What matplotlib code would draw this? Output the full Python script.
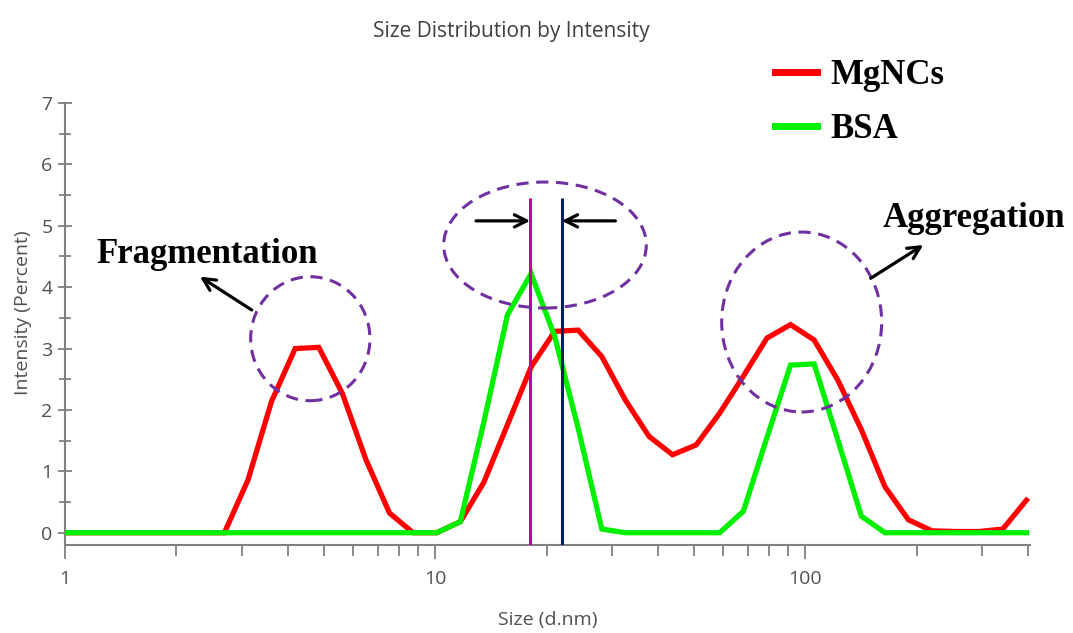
import numpy as np
import matplotlib
matplotlib.use('Agg')
import matplotlib.pyplot as plt
from matplotlib.patches import Ellipse
from matplotlib.lines import Line2D

##### DATA #####
# Malvern size bins (d.nm)
sizes = [0.9649, 1.117, 1.294, 1.499, 1.736, 2.010, 2.328, 2.696, 3.122, 3.615,
         4.187, 4.849, 5.615, 6.503, 7.531, 8.721, 10.10, 11.70, 13.54, 15.69,
         18.17, 21.04, 24.36, 28.21, 32.67, 37.84, 43.82, 50.75, 58.77, 68.06,
         78.82, 91.28, 105.7, 122.4, 141.8, 164.2, 190.1, 220.2, 255.0, 295.3,
         342.0, 396.1]
mgncs = [0, 0, 0, 0, 0, 0, 0, 0, 0.86, 2.14,
         3.00, 3.02, 2.27, 1.19, 0.32, 0, 0, 0.18, 0.82, 1.76,
         2.70, 3.28, 3.30, 2.87, 2.16, 1.57, 1.27, 1.43, 1.95, 2.55,
         3.17, 3.39, 3.14, 2.49, 1.68, 0.75, 0.21, 0.03, 0.02, 0.02,
         0.06, 0.53]
bsa = [0, 0, 0, 0, 0, 0, 0, 0, 0, 0,
       0, 0, 0, 0, 0, 0, 0, 0.18, 1.80, 3.55,
       4.22, 3.20, 1.70, 0.06, 0, 0, 0, 0, 0, 0.35,
       1.55, 2.73, 2.75, 1.52, 0.27, 0, 0, 0, 0, 0,
       0, 0]
peak_bsa = 18.07    # magenta marker
peak_mgncs = 22.0   # navy marker

gray = '#808080'
txt_gray = '#505050'
purple = '#7030A0'

##### PLOT #####
fig = plt.figure(figsize=(10.73, 6.33), dpi=100)
ax = fig.add_axes([65/1073, 1-545/633, 965/1073, 442/633])

ax.plot(sizes, mgncs, color='#FF0000', lw=3.8, zorder=3, solid_joinstyle='miter')
ax.plot(sizes, bsa, color='#00F000', lw=3.8, zorder=4, solid_joinstyle='miter')
ax.vlines(peak_bsa, -0.2, 5.45, color='#C0009C', lw=2.2, zorder=5)
ax.vlines(peak_mgncs, -0.2, 5.45, color='#002060', lw=2.2, zorder=5)

ax.set_xscale('log')
ax.set_xlim(1, 405)
ax.set_ylim(-0.2, 7)
ax.set_xticks([1, 10, 100])
ax.set_xticklabels(['1', '10', '100'])
ax.set_yticks(range(0, 8))
ax.set_yticks(np.arange(0.5, 7, 1), minor=True)

for s in ['top', 'right']:
    ax.spines[s].set_visible(False)
for s in ['left', 'bottom']:
    ax.spines[s].set_color(gray)
    ax.spines[s].set_linewidth(1.5)

ax.tick_params(axis='y', which='major', direction='inout', length=10, width=1.3,
               color=gray, labelsize=14, labelcolor=txt_gray, pad=4)
ax.tick_params(axis='y', which='minor', direction='inout', length=9, width=1.3, color=gray)
ax.tick_params(axis='x', which='major', direction='out', length=10, width=1.3,
               color=gray, labelsize=14, labelcolor=txt_gray, pad=8)
ax.tick_params(axis='x', which='minor', direction='out', length=8, width=1.3, color=gray)
for lab in ax.get_xticklabels() + ax.get_yticklabels():
    lab.set_family('Open Sans')

ax.set_xlabel('Size (d.nm)', fontsize=14, color=txt_gray, family='Open Sans', va='center')
ax.set_ylabel('Intensity (Percent)', fontsize=14, color=txt_gray, family='Open Sans', va='center')
ax.xaxis.set_label_coords(0.5, (545-620)/442)
ax.yaxis.set_label_coords((23-65)/965, (545-313)/442)

fig.text(511/1073, 1-32/633, 'Size Distribution by Intensity', fontsize=15,
         color='#404040', family='Open Sans', ha='center', va='center')

# dashed circles around the peaks (axes fraction)
circles = [((0.2542, 0.4667), 0.1236, 0.2805),
           ((0.4974, 0.6787), 0.2100, 0.2850),
           ((0.7634, 0.5045), 0.1658, 0.4070)]
for c, w, h in circles:
    ax.add_patch(Ellipse(c, w, h, transform=ax.transAxes, fill=False, ec=purple,
                         lw=2.2, ls=(0, (4, 2.5)), zorder=6, clip_on=False))

serif = 'Liberation Serif'
ax.text(0.0321, 0.638, 'Fragmentation', transform=ax.transAxes, fontsize=25,
        fontweight='bold', family=serif, va='baseline')
ax.text(0.8477, 0.7195, 'Aggregation', transform=ax.transAxes, fontsize=25,
        fontweight='bold', family=serif, va='baseline')

arrow = dict(arrowstyle='->', color='black', lw=2.3, mutation_scale=22,
             shrinkA=0, shrinkB=0)
ax.annotate('', xy=(0.1399, 0.607), xytext=(0.1935, 0.5317),
            xycoords='axes fraction', arrowprops=arrow, zorder=7)
ax.annotate('', xy=(0.8894, 0.6787), xytext=(0.8349, 0.6034),
            xycoords='axes fraction', arrowprops=arrow, zorder=7)
ax.annotate('', xy=(peak_bsa, 5.08), xytext=(12.9, 5.08), arrowprops=arrow, zorder=7)
ax.annotate('', xy=(peak_mgncs, 5.08), xytext=(30.7, 5.08), arrowprops=arrow, zorder=7)

handles = [Line2D([], [], color='#FF0000', lw=5),
           Line2D([], [], color='#00F000', lw=5)]
leg = ax.legend(handles, ['MgNCs', 'BSA'], loc='upper left',
                bbox_to_anchor=(775/1073, 1-59/633), bbox_transform=fig.transFigure,
                frameon=False, borderpad=0, borderaxespad=0, handlelength=1.2,
                handletextpad=0.4, labelspacing=0.6,
                prop=dict(family=serif, weight='bold', size=25))

fig.savefig('out.png', dpi=100)
